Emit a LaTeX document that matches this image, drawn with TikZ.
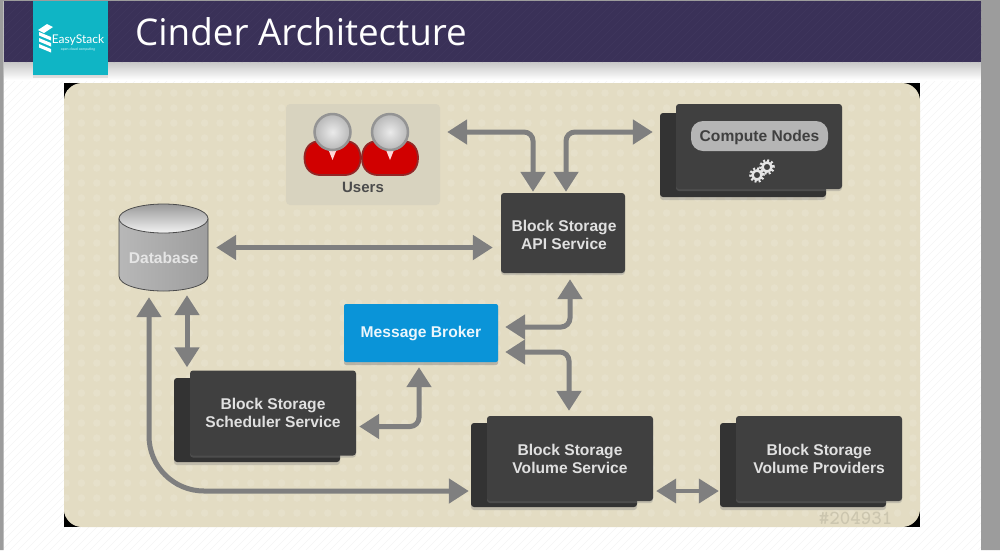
\documentclass[tikz,border=0pt]{standalone}
\usepackage{fontspec}
\setmainfont{Liberation Sans}
\newfontfamily\titlefont{Open Sans}
\newfontfamily\logofont{Lato}
\usetikzlibrary{arrows.meta,shadows}
\definecolor{headerblue}{HTML}{3A3158}
\definecolor{logoteal}{HTML}{0FB5C5}
\definecolor{panelbeige}{HTML}{E3DCC3}
\definecolor{dotbeige}{HTML}{E6E0CA}
\definecolor{usersbeige}{HTML}{D8D3BF}
\definecolor{boxgrey}{HTML}{404040}
\definecolor{backgrey}{HTML}{333333}
\definecolor{arrowgrey}{HTML}{7F7F7F}
\definecolor{brokerblue}{HTML}{0A94D8}
\definecolor{pagegrey}{HTML}{9C9C9C}
\begin{document}
\begin{tikzpicture}[x=1pt, y=-1pt,
	label/.style = {font=\bfseries\fontsize{15.6}{18}\selectfont, align=center, text=white!88!black},
	front/.style = {fill=boxgrey, rounded corners=3pt, minimum width=166pt, minimum height=85pt, inner sep=0pt, label, drop shadow={shadow xshift=0pt, shadow yshift=-2pt, opacity=.35}},
	back/.style = {fill=backgrey, rounded corners=3pt, minimum width=166pt, minimum height=84pt, inner sep=0pt, drop shadow={shadow xshift=0pt, shadow yshift=-3pt, opacity=.35}},
	arrow/.style = {draw=arrowgrey, line width=5pt, rounded corners=9pt, {Triangle[length=20pt,width=24pt]}-{Triangle[length=20pt,width=24pt]}}]
	\useasboundingbox (0,0) rectangle (1000,550);
	\fill[white] (0,0) rectangle (1000,550);
	\foreach \i in {0,8,...,1560}
		\draw[black!4, line width=.5pt] (\i,0) -- (\i-550,550);
	\shade[top color=black!22, bottom color=white, draw=none] (4,62) rectangle (981,80);
	\fill[pagegrey] (0,0) rectangle (3.5,550) (981,0) rectangle (1000,550) (0,0) rectangle (1000,1);
	\fill[headerblue] (4,1) rectangle (981,62);
	\begin{scope}
		\clip (4,1) rectangle (981,62);
		\foreach \i in {0,8,...,1040}
			\draw[white!3!headerblue, line width=.5pt] (\i,0) -- (\i-62,62);
	\end{scope}
	\node[text=white, anchor=west, inner sep=0pt, font=\titlefont\fontsize{36.8}{40}\selectfont] (title) at (135,32) {Cinder Architecture};
	\node[fill=logoteal, minimum width=75pt, minimum height=74pt, inner sep=0pt, drop shadow={shadow xshift=0pt, shadow yshift=-3pt, opacity=.2}] (logo) at (70.5,38) {};
	\fill[white] (38,30) -- (47,24) -- (53,27) -- (44,33) -- cycle;
	\foreach \y in {32,38,44}
		\fill[white] (39,\y) -- (51,\y+5) -- (51,\y+8.5) -- (39,\y+3.5) -- cycle;
	\node[text=white, inner sep=0pt, font=\logofont\fontsize{12}{12}\selectfont] (logoname) at (78,40) {EasyStack};
	\node[text=white!85!logoteal, inner sep=0pt, font=\logofont\fontsize{3.5}{4}\selectfont] (logosub) at (78,50) {open cloud computing};
	\fill[black] (64,83) rectangle (920,527);
	\fill[panelbeige, rounded corners=18pt] (64,83) rectangle (920,527);
	\begin{scope}
		\clip[rounded corners=18pt] (64,83) rectangle (920,527);
		\foreach \x in {66,81.4,...,920}
			\foreach \y in {93,108,...,527}
				\fill[dotbeige] (\x,\y) circle (3.8pt);
	\end{scope}
	\node[text=panelbeige!90!black, inner sep=0pt, font=\ttfamily\bfseries\fontsize{20}{20}\selectfont] (tag) at (855.5,518) {\#204931};
	\node[fill=usersbeige, rounded corners=4pt, minimum width=154pt, minimum height=101pt, inner sep=0pt] (users) at (363,154.5) {};
	\foreach \x in {332.5,390} {
		\begin{scope}[shift={(\x,0)}]
			\filldraw[fill=red!82!black, draw=red!50!black!85, line width=1.8pt] (-12,141) .. controls (-24,141) and (-28,150) .. (-28,158) .. controls (-28,170) and (-20,175) .. (-12,175) -- (12,175) .. controls (20,175) and (28,170) .. (28,158) .. controls (28,150) and (24,141) .. (12,141) -- cycle;
			\fill[white!85!red] (-4,150) -- (0,160) -- (4,150) -- cycle;
			\shade[inner color=white!92!black, outer color=black!28, draw=black!42, line width=2.5pt] (0,132) circle (18pt);
		\end{scope}
	}
	\node[label, text=black!70, inner sep=0pt, font=\bfseries\fontsize{15}{18}\selectfont] (userlabel) at (363,187) {Users};
	\shade[left color=black!28, middle color=black!48, right color=black!38, draw=black!70, line width=.8pt] (119,219) -- (119,276) .. controls (119,285) and (140,291) .. (163.5,291) .. controls (187,291) and (208,285) .. (208,276) -- (208,219) -- cycle;
	\shade[top color=black!40, bottom color=black!5, draw=black!70, line width=.8pt] (163.5,218.5) ellipse (44.5pt and 14.5pt);
	\node[minimum width=89pt, minimum height=87pt, inner sep=0pt] (db) at (163.5,247.5) {};
	\node[label, text=white!90!black, inner sep=0pt] (dblabel) at (163.5,258) {Database};
	\node[front, minimum width=124pt, minimum height=80pt] (api) at (563,233) {};
	\node[label, inner sep=0pt] (apilabel) at (564,235) {Block Storage\\API Service};
	\node[back] (computeback) at (743,155) {};
	\node[front] (compute) at (759,146.5) {};
	\node[fill=black!29, rounded corners=12pt, minimum width=137pt, minimum height=30pt, inner sep=0pt, text=boxgrey, text height=13pt, text depth=1.4pt, font=\bfseries\fontsize{15.6}{18}\selectfont] (pill) at (759.5,136) {Compute Nodes};
	\foreach \x/\y/\r in {767/167/4.5, 757/175/4.5} {
		\draw[white!90!black, line width=2.5pt] (\x,\y) circle (\r pt);
		\draw[white!90!black, line width=2.6pt, dash pattern=on 2pt off 2pt] (\x,\y) circle (\r pt+2pt);
	}
	\node[fill=brokerblue, rounded corners=2pt, minimum width=154pt, minimum height=58pt, inner sep=0pt, label, text=white!92!brokerblue, drop shadow={shadow xshift=0pt, shadow yshift=-3pt, opacity=.45}] (broker) at (421,333) {Message Broker};
	\node[back] (schedback) at (257,420) {};
	\node[front] (sched) at (273,413) {Block Storage\\Scheduler Service};
	\node[back] (volback) at (554,465) {};
	\node[front] (vol) at (570,458.5) {Block Storage\\Volume Service};
	\node[back] (provback) at (803,465) {};
	\node[front] (prov) at (819,458.5) {Block Storage\\Volume Providers};
	\draw[arrow] ([xshift=7pt,yshift=22.5pt]users.east) -| ([xshift=-30pt,yshift=1pt]api.north);
	\draw[arrow] ([xshift=3pt,yshift=1pt]api.north) |- ([xshift=-7pt,yshift=23pt]computeback.west);
	\draw[arrow] ([xshift=8pt]db.east) -- ([xshift=-8pt,yshift=-14.5pt]api.west);
	\draw[arrow, rounded corners=55pt] ([xshift=-14.5pt,yshift=-6pt]db.south) |- ([xshift=-2pt,yshift=-26pt]volback.west);
	\draw[arrow] ([xshift=23.5pt,yshift=-4pt]db.south) -- ([xshift=-86pt,yshift=3pt]sched.north);
	\draw[arrow] ([xshift=3pt,yshift=-13.5pt]sched.east) -| ([xshift=-2pt,yshift=-5pt]broker.south);
	\draw[arrow] ([xshift=7pt,yshift=6pt]broker.east) -| ([xshift=7pt,yshift=-6pt]api.south);
	\draw[arrow] ([xshift=7pt,yshift=-19pt]broker.east) -| ([xshift=-1pt,yshift=5pt]vol.north);
	\draw[arrow, line width=4pt] ([xshift=3pt,yshift=-32.5pt]vol.east) -- ([xshift=-1pt,yshift=-26pt]provback.west);
\end{tikzpicture}
\end{document}
